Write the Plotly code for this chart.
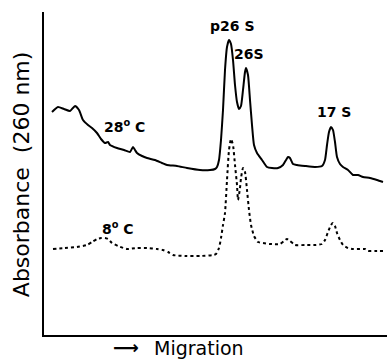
import plotly.graph_objects as go

# 28 °C trace (solid): migration (arbitrary units) vs absorbance (arbitrary units)
mig_28 = [8, 14, 20, 26, 31, 35, 39, 44, 48, 53, 57, 61, 64, 66, 73, 80, 86, 89, 91, 93,
          98, 103, 111, 118, 123, 133, 143, 156, 166, 171, 173, 175, 177, 179, 181, 183, 185, 187, 189, 191,
          193, 195, 197, 199, 201, 202, 204, 206, 208, 210, 213, 218, 223, 228, 234, 239, 242, 244, 246, 249,
          253, 261, 271, 278, 281, 283, 285, 287, 289, 291, 293, 296, 299, 304, 309, 314, 319, 326, 333, 339]
abs_28 = [223, 228, 226, 224, 229, 225, 215, 210, 207, 202, 196, 192, 193, 190, 187, 185, 183, 188, 185, 182,
          179, 177, 175, 172, 170, 169, 167, 165, 165, 166, 168, 175, 195, 225, 265, 288, 295, 291, 275, 250,
          233, 226, 229, 245, 263, 267, 260, 235, 210, 190, 182, 175, 168, 167, 167, 170, 175, 178, 177, 171,
          170, 169, 168, 169, 175, 190, 203, 208, 205, 193, 178, 171, 168, 165, 160, 160, 158, 157, 155, 153]

# 8 °C trace (dotted)
mig_8 = [9, 21, 33, 43, 48, 53, 57, 61, 64, 68, 74, 83, 93, 103, 113, 119, 124, 129, 141, 156,
         169, 172, 175, 177, 179, 181, 183, 185, 187, 189, 191, 193, 194, 196, 197, 199, 201, 203, 205, 207,
         210, 214, 219, 226, 236, 240, 243, 246, 251, 261, 271, 278, 281, 284, 287, 289, 291, 293, 296, 299,
         304, 309, 316, 321, 324, 331, 339]
abs_8 = [86, 87, 88, 90, 93, 96, 97, 97, 96, 92, 89, 86, 87, 87, 86, 85, 83, 80, 79, 79,
         80, 81, 87, 97, 110, 122, 155, 185, 196, 190, 170, 150, 135, 147, 157, 167, 163, 145, 125, 110,
         99, 93, 92, 91, 91, 94, 96, 94, 90, 90, 90, 91, 95, 103, 110, 112, 109, 102, 95, 90,
         87, 86, 86, 86, 84, 84, 84]

# peak / trace labels
label_text = ["28<sup>o</sup> C", "8<sup>o</sup> C", "p26 S", "26S", "17 S"]
label_x = [80, 74, 188, 205, 290]
label_y = [209, 107, 309, 281, 223]

fig = go.Figure()
fig.add_trace(go.Scatter(x=mig_28, y=abs_28, mode="lines",
                         line=dict(color="black", width=2, shape="spline", smoothing=0.5),
                         hoverinfo="skip"))
fig.add_trace(go.Scatter(x=mig_8, y=abs_8, mode="lines",
                         line=dict(color="black", width=2, dash="dot", shape="spline", smoothing=0.5),
                         hoverinfo="skip"))

for t, x, y in zip(label_text, label_x, label_y):
    fig.add_annotation(x=x, y=y, text=t, showarrow=False, xanchor="center", yanchor="middle",
                       font=dict(family="DejaVu Sans", size=14, color="black", weight="bold"))

fig.add_annotation(xref="paper", yref="paper", x=-0.067, y=0.498, text="Absorbance  (260 nm)",
                   textangle=-90, showarrow=False, xanchor="center", yanchor="middle",
                   font=dict(family="DejaVu Sans", size=22, color="black"))
fig.add_annotation(xref="paper", yref="paper", x=(126 - 44) / 343, y=-0.040, text="⟶",
                   showarrow=False, xanchor="center", yanchor="middle",
                   font=dict(family="DejaVu Sans", size=18, color="black", weight="bold"))
fig.add_annotation(xref="paper", yref="paper", x=(199 - 44) / 343, y=-0.040, text="Migration",
                   showarrow=False, xanchor="center", yanchor="middle",
                   font=dict(family="DejaVu Sans", size=19, color="black"))

fig.update_xaxes(range=[0, 343], showgrid=False, zeroline=False, showticklabels=False, ticks="",
                 showline=True, linecolor="black", linewidth=2)
fig.update_yaxes(range=[0, 323], showgrid=False, zeroline=False, showticklabels=False, ticks="",
                 showline=True, linecolor="black", linewidth=2)
fig.update_layout(width=387, height=360, margin=dict(l=44, r=0, t=12, b=25),
                  paper_bgcolor="white", plot_bgcolor="white", showlegend=False)

fig.write_html("out.html")
